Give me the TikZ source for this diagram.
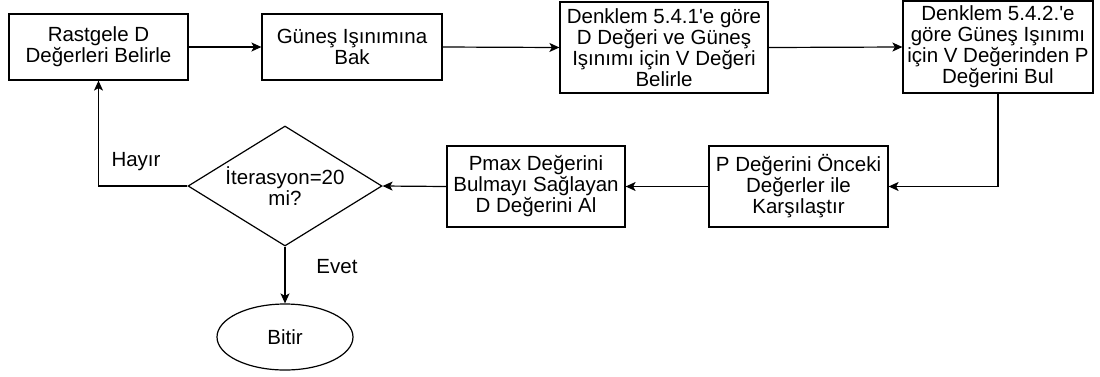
\documentclass[tikz,border=0pt]{standalone}
\usepackage{fontspec}
\setmainfont{Liberation Sans}
\usetikzlibrary{arrows.meta,shapes.geometric}
\tikzset{
  kutu/.style={draw,line width=1.2pt,align=center,inner sep=0pt,
    font=\fontsize{20.5}{21}\selectfont},
  ok/.style={-{Stealth[length=10pt,width=9pt,inset=2.5pt]},line width=1.2pt},
  etiket/.style={font=\fontsize{20.5}{21}\selectfont}
}
\begin{document}
\begin{tikzpicture}[x=1pt,y=-1pt]
  \useasboundingbox (0,0) rectangle (1100,376);
  % ust sira
  \node[kutu,minimum width=179pt,minimum height=66pt] (A) at (98.5,47) {Rastgele D\\Değerleri Belirle};
  \node[kutu,minimum width=180pt,minimum height=66pt] (B) at (352,47) {Güneş Işınımına\\Bak};
  \node[kutu,minimum width=208pt,minimum height=91pt] (C) at (664,47.5) {Denklem 5.4.1\textquotesingle e göre\\D Değeri ve Güneş\\Işınımı için V Değeri\\Belirle};
  \node[kutu,minimum width=190pt,minimum height=92pt] (D) at (998,47) {Denklem 5.4.2.\textquotesingle e\\göre Güneş Işınımı\\için V Değerinden P\\Değerini Bul};
  % alt sira
  \node[kutu,minimum width=179pt,minimum height=81pt] (E) at (798.5,186.5) {P Değerini Önceki\\Değerler ile\\Karşılaştır};
  \node[kutu,minimum width=178pt,minimum height=81pt] (F) at (536,186.5) {Pmax Değerini\\Bulmayı Sağlayan\\D Değerini Al};
  \node[kutu,diamond,aspect=1.62,minimum width=194pt,minimum height=120pt] (G) at (285,186) {İterasyon=20\\mi?};
  \node[kutu,ellipse,minimum width=136pt,minimum height=66pt] (H) at (285,337) {Bitir};
  \node[etiket] (hayir) at (136,162) {Hayır};
  \node[etiket] (evet) at (337,267) {Evet};
  \draw[ok] (A.east) -- (B.west);
  \draw[ok] (B.east) -- (C.west);
  \draw[ok] (C.east) -- (D.west);
  \draw[ok] (D.south) |- (E.east);
  \draw[ok] (E.west) -- (F.east);
  \draw[ok] (F.west) -- (G.east);
  \draw[ok] (G.west) -| (A.south);
  \draw[ok] (G.south) -- (H.north);
\end{tikzpicture}
\end{document}
